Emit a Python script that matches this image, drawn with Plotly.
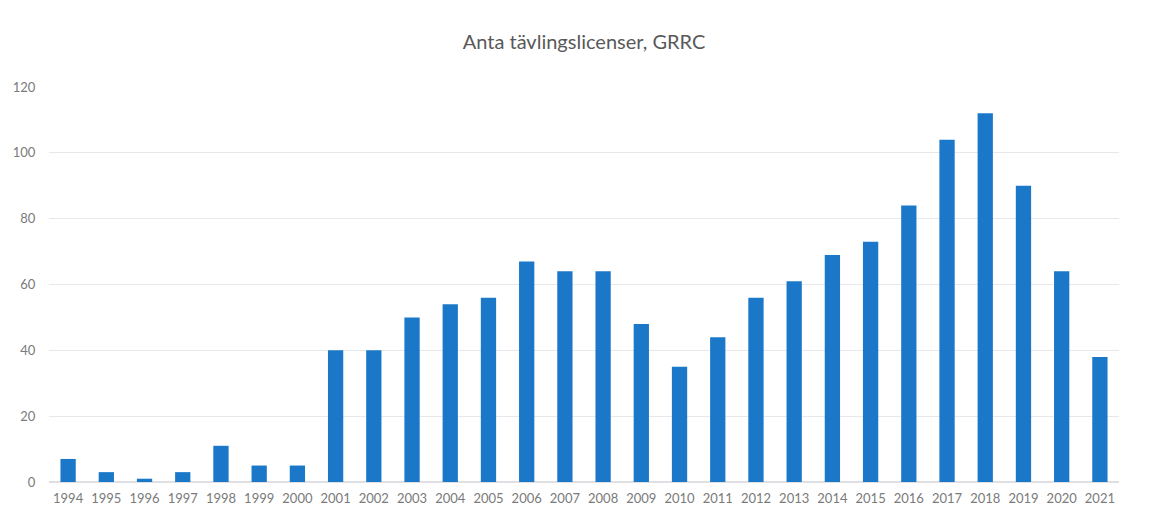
import plotly.graph_objects as go

years = [str(y) for y in range(1994, 2022)]
licenser = [7, 3, 1, 3, 11, 5, 5, 40, 40, 50, 54, 56, 67, 64, 64, 48, 35, 44,
            56, 61, 69, 73, 84, 104, 112, 90, 64, 38]
title_text = "Anta tävlingslicenser, GRRC"

fig = go.Figure(go.Bar(x=years, y=licenser, marker_color="#1b78c8",
                       marker_line_width=0))
fig.update_layout(
    width=1152, height=497,
    paper_bgcolor="white", plot_bgcolor="white",
    margin=dict(l=41, r=41, t=79, b=23),
    bargap=0.6,
    showlegend=False,
    font=dict(family="Lato, Open Sans, sans-serif", color="#7a7a7a", size=13),
    title=dict(text=title_text, x=0.5, xanchor="center", y=0.932, yanchor="middle",
               font=dict(size=20, color="#595959", family="Lato, Open Sans, sans-serif")),
    xaxis=dict(type="category", showgrid=False, showline=False,
               ticks="outside", ticklen=4, tickcolor="rgba(0,0,0,0)",
               automargin=False, tickfont=dict(size=13, color="#7a7a7a")),
    yaxis=dict(range=[0, 120], dtick=20, showgrid=True, gridcolor="#e8e8ec",
               gridwidth=1, zeroline=True, zerolinecolor="#e0e0e4",
               automargin=False,
               ticks="outside", ticklen=10, tickcolor="rgba(0,0,0,0)",
               tickfont=dict(size=13, color="#7a7a7a")),
)
fig.write_html("out.html")
